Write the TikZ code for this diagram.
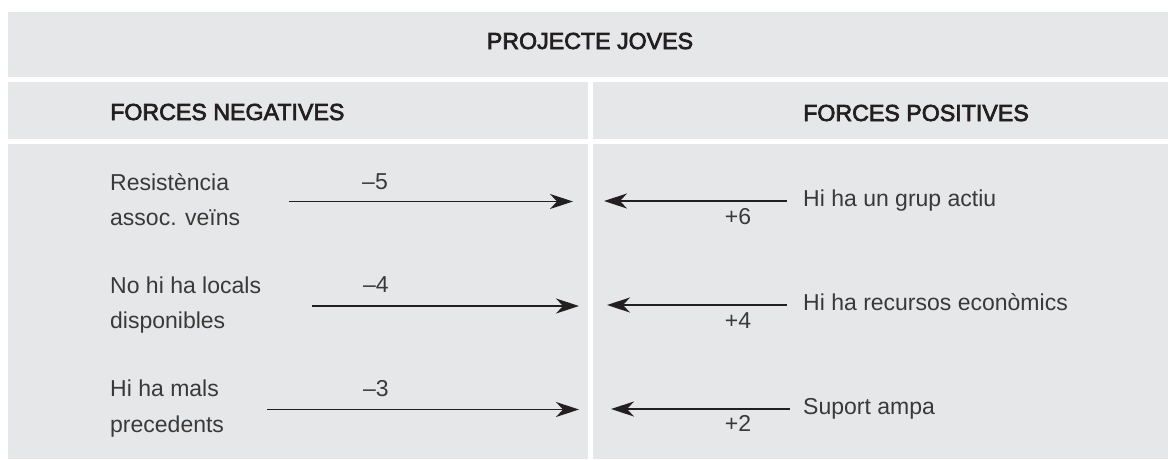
\documentclass[tikz,border=0pt]{standalone}
\usepackage{fontspec}
\setmainfont{Liberation Sans}
\newfontfamily\headfont[FakeBold=3]{Liberation Sans}
\usetikzlibrary{arrows.meta}
\definecolor{panel}{HTML}{E6E7E8}
\definecolor{ink}{HTML}{231F20}
\definecolor{bodyink}{HTML}{3A393A}
\tikzset{
  panelbox/.style={fill=panel, draw=none},
  headtext/.style={anchor=base, inner sep=0pt, text=ink,
    font=\headfont\fontsize{23.2}{27}\selectfont},
  coltext/.style={anchor=base west, inner sep=0pt, text=ink,
    font=\headfont\fontsize{23.2}{27}\selectfont},
  label/.style={anchor=base west, inner sep=0pt, text=bodyink,
    font=\fontsize{23}{27}\selectfont},
  score/.style={anchor=base, inner sep=0pt, text=bodyink,
    font=\fontsize{23}{27}\selectfont},
  force/.style={draw=ink, line width=1.5pt,
    -{Stealth[length=23pt, width=15pt, inset=7pt]}}
}
\begin{document}
\begin{tikzpicture}[x=1pt, y=-1pt]
  \useasboundingbox (0,0) rectangle (1168,459);
  % panels
  \fill[panelbox] (8,12) rectangle (1168,76.5);
  \fill[panelbox] (8,82) rectangle (588,138.5);
  \fill[panelbox] (593,82) rectangle (1168,138.5);
  \fill[panelbox] (8,143.5) rectangle (588,459);
  \fill[panelbox] (593,143.5) rectangle (1168,459);

  % headings
  \node[headtext] (title) at (590,49) {PROJECTE JOVES};
  \node[coltext] (neg) at (110,120) {FORCES NEGATIVES};
  \node[coltext] (pos) at (803,121) {FORCES POSITIVES};

  % negative forces
  \node[label] (n1a) at (110,190) {Resistència};
  \node[label] (n1b) at (110,225) {assoc. veïns};
  \node[label] (n2a) at (110,293) {No hi ha locals};
  \node[label] (n2b) at (110,328) {disponibles};
  \node[label] (n3a) at (110,396.7) {Hi ha mals};
  \node[label] (n3b) at (110,432) {precedents};
  \node[score] (s1) at (375,189.5) {–5};
  \node[score] (s2) at (376,292.7) {–4};
  \node[score] (s3) at (376,396.7) {–3};

  % positive forces
  \node[label] (p1) at (803,206.7) {Hi ha un grup actiu};
  \node[label] (p2) at (803,310.7) {Hi ha recursos econòmics};
  \node[label] (p3) at (803,414.3) {Suport ampa};
  \node[score] (t1) at (738,224) {+6};
  \node[score] (t2) at (738,328.3) {+4};
  \node[score] (t3) at (738,431.7) {+2};

  % arrow ends
  \coordinate (a1s) at (289,201.5);
  \coordinate (a1e) at (573,201.5);
  \coordinate (a2s) at (312,306);
  \coordinate (a2e) at (579,306);
  \coordinate (a3s) at (267,409.5);
  \coordinate (a3e) at (579,409.5);
  \coordinate (b1s) at (787,201);
  \coordinate (b1e) at (604,201);
  \coordinate (b2s) at (787,305);
  \coordinate (b2e) at (607,305);
  \coordinate (b3s) at (790,409);
  \coordinate (b3e) at (611,409);

  \draw[force] (a1s) -- (a1e);
  \draw[force] (a2s) -- (a2e);
  \draw[force] (a3s) -- (a3e);
  \draw[force] (b1s) -- (b1e);
  \draw[force] (b2s) -- (b2e);
  \draw[force] (b3s) -- (b3e);
\end{tikzpicture}
\end{document}
